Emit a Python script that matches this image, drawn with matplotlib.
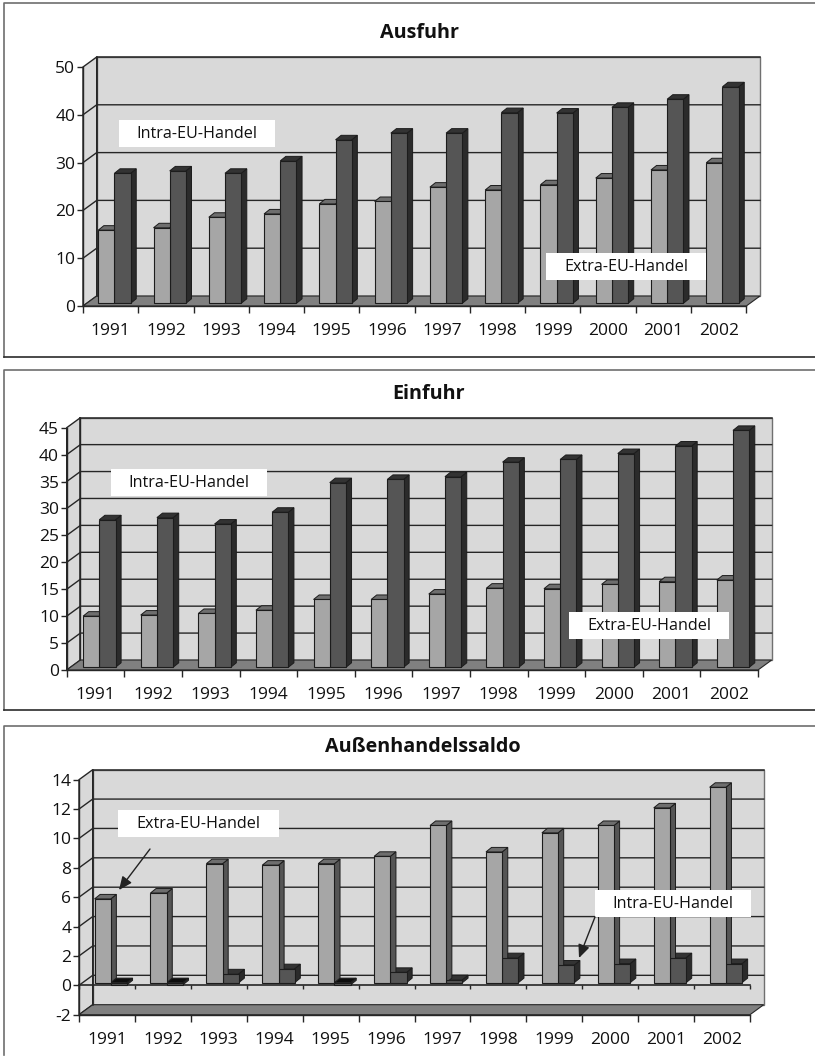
"""Ausfuhr / Einfuhr / Aussenhandelssaldo as three faked-3D bar charts."""
import matplotlib
matplotlib.use("Agg")
import matplotlib.pyplot as plt
from matplotlib.patches import Polygon, Rectangle

W, H = 815, 1057
FONT = "Open Sans"

years = [str(y) for y in range(1991, 2003)]

# light / dark bars, billions
ausfuhr_light = [15.3, 15.8, 18.0, 18.7, 20.8, 21.3, 24.3, 23.7, 24.8, 26.2, 27.9, 29.4]
ausfuhr_dark = [27.2, 27.7, 27.2, 29.8, 34.2, 35.6, 35.6, 39.9, 39.8, 41.0, 42.7, 45.3]
einfuhr_light = [9.5, 9.7, 10.0, 10.6, 12.6, 12.6, 13.6, 14.7, 14.6, 15.4, 15.9, 16.2]
einfuhr_dark = [27.4, 27.8, 26.6, 28.8, 34.3, 34.9, 35.4, 38.1, 38.6, 39.7, 41.1, 44.0]
saldo_light = [5.7, 6.1, 8.1, 8.0, 8.1, 8.6, 10.7, 8.9, 10.2, 10.7, 11.9, 13.3]
saldo_dark = [-0.15, -0.15, 0.6, 0.95, -0.15, 0.7, 0.2, 1.7, 1.2, 1.3, 1.7, 1.3]

WALL = "#d9d9d9"
FLOOR = "#808080"
LINE = "#262626"

plt.rcParams["font.family"] = [FONT, "DejaVu Sans"]
fig = plt.figure(figsize=(W / 100, H / 100), dpi=100, facecolor="white")


def make_axes(left, right, top, bottom):
    # pixel box (y down) of the front plane
    return fig.add_axes([left / W, 1 - bottom / H, (right - left) / W, (bottom - top) / H])


def draw_panel(ax, light, dark, yticks, depth=(13.7, 10.0)):
    ymin, ymax = yticks[0], yticks[-1]
    ax.set_xlim(0, 12)
    ax.set_ylim(ymin, ymax)
    ax.patch.set_visible(False)
    bbox = ax.get_position()
    xpx = bbox.width * W / 12
    ypx = bbox.height * H / (ymax - ymin)
    dx, dy = depth[0] / xpx, depth[1] / ypx

    # walls and floor
    ax.add_patch(Polygon([(dx, ymin + dy), (12 + dx, ymin + dy), (12 + dx, ymax + dy), (dx, ymax + dy)],
                         fc=WALL, ec="#707070", lw=1, clip_on=False, zorder=1))
    ax.add_patch(Polygon([(0, ymin), (dx, ymin + dy), (dx, ymax + dy), (0, ymax)],
                         fc=WALL, ec=LINE, lw=1, clip_on=False, zorder=1))
    ax.add_patch(Polygon([(0, ymin), (12, ymin), (12 + dx, ymin + dy), (dx, ymin + dy)],
                         fc=FLOOR, ec=LINE, lw=0.8, clip_on=False, zorder=1.2))
    for v in yticks[1:-1]:
        ax.plot([0, dx, 12 + dx], [v, v + dy, v + dy], color=LINE, lw=1, clip_on=False, zorder=1.5)
    ax.plot([dx, 12 + dx], [ymax + dy, ymax + dy], color=LINE, lw=1.1, clip_on=False, zorder=1.5)
    ax.plot([dx, dx], [ymin + dy, ymax + dy], color=LINE, lw=1.1, clip_on=False, zorder=1.5)

    # zero plane of the saldo panel
    if ymin < 0:
        ax.plot([0, 12], [0, 0], color=LINE, lw=1.2, clip_on=False, zorder=1.6)
        ax.vlines(range(13), -4 / ypx, 0, color=LINE, lw=1, clip_on=False, zorder=1.6)

    # bars, pixel offsets turned into data units
    bw = 16.2 / xpx
    sx, sy = 5.6 / xpx, 4.5 / ypx
    ox, oy = 3.8 / xpx, 2.7 / ypx
    z = 2.0
    for i in range(12):
        x0 = i + 0.5 - bw + ox
        for x, v, colors in [(x0 + bw, dark[i], ("#555555", "#333333", "#2b2b2b")),
                             (x0, light[i], ("#a6a6a6", "#6e6e6e", "#555555"))]:
            front, top, side = colors
            hi = max(v, 0) + oy
            lo = min(v, 0) + oy
            if v < 0:
                top = "#0d0d0d"
            ax.add_patch(Polygon([(x + bw, lo), (x + bw + sx, lo + sy), (x + bw + sx, hi + sy), (x + bw, hi)],
                                 fc=side, ec="#1c1c1c", lw=0.7, clip_on=False, zorder=z))
            ax.add_patch(Polygon([(x, hi), (x + sx, hi + sy), (x + bw + sx, hi + sy), (x + bw, hi)],
                                 fc=top, ec="#1c1c1c", lw=0.7, clip_on=False, zorder=z))
            ax.add_patch(Rectangle((x, lo), bw, hi - lo, fc=front, ec="#1c1c1c", lw=0.8,
                                   clip_on=False, zorder=z + 0.1))
            z += 0.2 if colors[0] == "#a6a6a6" else 0.0

    for s in ("top", "right"):
        ax.spines[s].set_visible(False)
    for s in ("left", "bottom"):
        ax.spines[s].set_color(LINE)
        ax.spines[s].set_linewidth(1)
    ax.set_yticks(yticks)
    ax.set_yticklabels([str(v) for v in yticks], fontsize=12.5, color="#111111")
    ax.tick_params(axis="y", length=4, width=1, color=LINE, pad=1.5)
    ax.set_xticks(range(13))
    ax.set_xticklabels([])
    ax.tick_params(axis="x", which="major", length=5, width=1, color=LINE)
    ax.set_xticks([i + 0.5 for i in range(12)], minor=True)
    ax.set_xticklabels(years, minor=True, fontsize=12.5, color="#111111")
    ax.tick_params(axis="x", which="minor", length=0, pad=12.5)


draw_panel(make_axes(83, 746.3, 67, 306), ausfuhr_light, ausfuhr_dark, list(range(0, 51, 10)))
draw_panel(make_axes(66.7, 758, 427.7, 670), einfuhr_light, einfuhr_dark, list(range(0, 46, 5)))
draw_panel(make_axes(79, 750, 779.7, 1014.7), saldo_light, saldo_dark, list(range(-2, 15, 2)))

# overlay in pixels: frames, titles, call-outs
over = fig.add_axes([0, 0, 1, 1], zorder=10)
over.set_xlim(0, W)
over.set_ylim(H, 0)
over.axis("off")

for top, bottom in [(3, 357.3), (370, 709.5)]:
    over.plot([W, 3.5, 3.5], [top, top, bottom], color="#6e6e6e", lw=1.2)
    over.plot([3.5, W], [bottom, bottom], color="#2b2b2b", lw=1.2)
over.plot([W, 3.5, 3.5], [726, 726, 1055], color="#6e6e6e", lw=1.2)

for label, x, y in [("Ausfuhr", 419, 33), ("Einfuhr", 428.5, 394), ("Außenhandelssaldo", 423, 747)]:
    over.text(x, y, label, ha="center", va="center", fontsize=14.2, fontweight="bold", color="#111111")

boxes = [("Intra-EU-Handel", 119, 275, 120, 147),
         ("Extra-EU-Handel", 546, 706, 253, 280),
         ("Intra-EU-Handel", 111, 267, 469, 496),
         ("Extra-EU-Handel", 569, 729, 612, 639),
         ("Extra-EU-Handel", 118, 279, 810, 837),
         ("Intra-EU-Handel", 595, 751, 890, 917)]
for label, x0, x1, y0, y1 in boxes:
    over.add_patch(Rectangle((x0, y0), x1 - x0, y1 - y0, fc="white", ec="none"))
    over.text((x0 + x1) / 2, (y0 + y1) / 2 + 0.8, label, ha="center", va="center", fontsize=11.6, color="#111111")

for start, end in [((150, 849), (119, 890)), ((595, 917), (579, 958))]:
    over.annotate("", xy=end, xytext=start,
                  arrowprops=dict(arrowstyle="-|>,head_width=0.35,head_length=0.8", color="#222222",
                                  lw=1, shrinkA=0, shrinkB=0))

fig.savefig("out.png", dpi=100)
